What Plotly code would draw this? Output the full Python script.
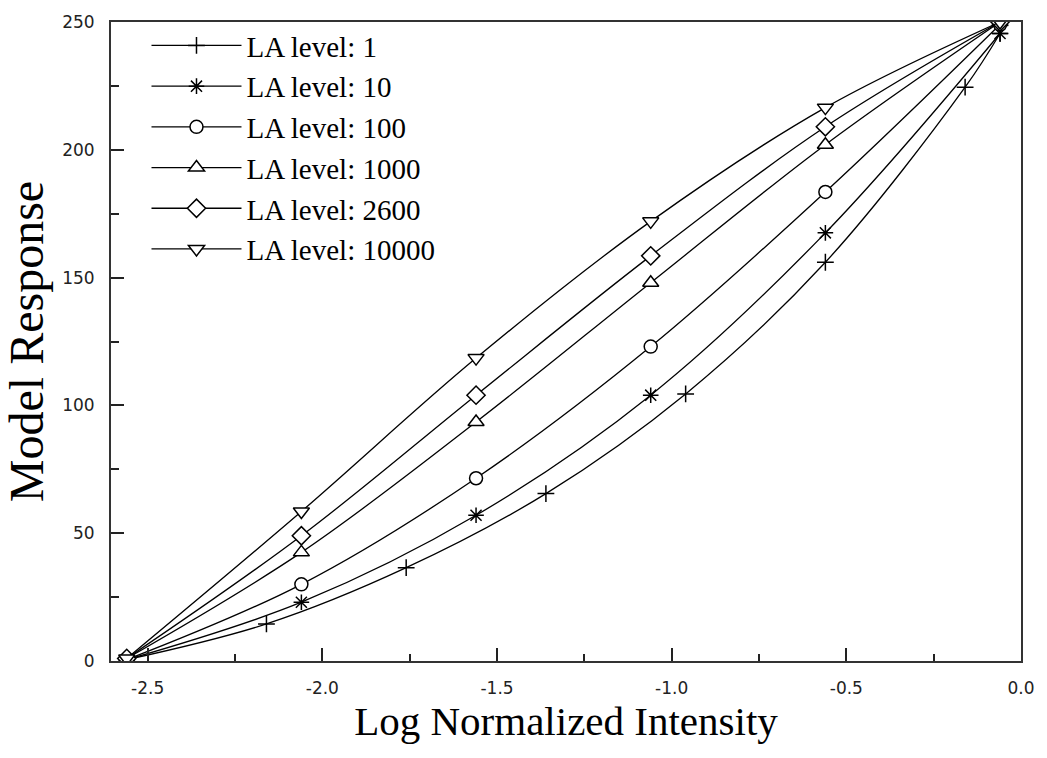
import plotly.graph_objects as go

# Data
x_la1 = [-2.56, -2.16, -1.76, -1.36, -0.96, -0.56, -0.16, -0.06]
y_la1 = [0.5, 14.5, 36.5, 65.5, 104.5, 156.0, 224.5, 245.5]

x_std = [-2.56, -2.06, -1.56, -1.06, -0.56, -0.06]
y_la10 = [0.5, 23.0, 57.0, 104.0, 167.5, 245.5]
y_la100 = [0.5, 30.0, 71.5, 123.0, 183.5, 249.0]
y_la1000 = [1.0, 42.5, 93.5, 148.0, 202.0, 250.0]
y_la2600 = [1.0, 49.0, 104.0, 158.5, 209.0, 250.0]
y_la10000 = [1.0, 58.5, 118.5, 172.0, 216.5, 250.0]

names = ["LA level: 1", "LA level: 10", "LA level: 100",
         "LA level: 1000", "LA level: 2600", "LA level: 10000"]
xs = [x_la1, x_std, x_std, x_std, x_std, x_std]
ys = [y_la1, y_la10, y_la100, y_la1000, y_la2600, y_la10000]
symbols = ["cross-thin", "asterisk", "circle", "triangle-up", "diamond", "triangle-down"]
sizes = [12, 13, 13, 14, 14, 14]

fig = go.Figure()
for i, (nm, xv, yv, sym, sz) in enumerate(zip(names, xs, ys, symbols, sizes)):
    fig.add_trace(go.Scatter(
        x=xv, y=yv, name=nm, mode="lines+markers",
        line=dict(color="black", width=1.3, shape="spline", smoothing=1.0),
        marker=dict(symbol=sym, size=sz, color="white",
                    line=dict(color="black", width=1.5)),
        legendgroup=f"g{i}",
    ))

serif = "Liberation Serif, Times New Roman, serif"
sans = "DejaVu Sans, Verdana, sans-serif"

fig.update_layout(
    width=1047, height=758,
    paper_bgcolor="white", plot_bgcolor="white",
    margin=dict(l=111, r=19, t=22, b=97),
    showlegend=True,
    legend=dict(x=0.039, y=1.003, xanchor="left", yanchor="top",
                font=dict(family=serif, size=29, color="black"),
                bgcolor="rgba(0,0,0,0)", tracegroupgap=0, itemwidth=90),
    xaxis=dict(
        range=[-2.605, 0.0], tickmode="array",
        tickvals=[-2.5, -2.0, -1.5, -1.0, -0.5, 0.0],
        ticktext=["-2.5", "-2.0", "-1.5", "-1.0", "-0.5", "0.0"],
        ticks="inside", ticklen=13, tickwidth=1.5, tickcolor="#222",
        ticklabelstandoff=11,
        minor=dict(ticks="inside", ticklen=7, tickwidth=1.5, tickcolor="#222",
                   tickvals=[-2.25, -1.75, -1.25, -0.75, -0.25]),
        showline=True, linecolor="#333", linewidth=2, mirror=True,
        showgrid=False, zeroline=False,
        tickfont=dict(family=sans, size=17, color="#222"),
        title=dict(text="Log Normalized Intensity",
                   font=dict(family=serif, size=41, color="black"), standoff=0),
    ),
    yaxis=dict(
        range=[0, 250], tickmode="array",
        tickvals=[0, 50, 100, 150, 200, 250],
        ticks="inside", ticklen=13, tickwidth=1.5, tickcolor="#222",
        ticklabelstandoff=11,
        minor=dict(ticks="inside", ticklen=8, tickwidth=1.5, tickcolor="#222",
                   tickvals=[25, 75, 125, 175, 225]),
        showline=True, linecolor="#333", linewidth=2, mirror=True,
        showgrid=False, zeroline=False,
        tickfont=dict(family=sans, size=17, color="#222"),
        title=dict(text="Model Response",
                   font=dict(family=serif, size=48, color="black"), standoff=4),
    ),
)

fig.write_html("out.html", config={"displayModeBar": False},
               post_script="document.body.style.margin='0px';")
